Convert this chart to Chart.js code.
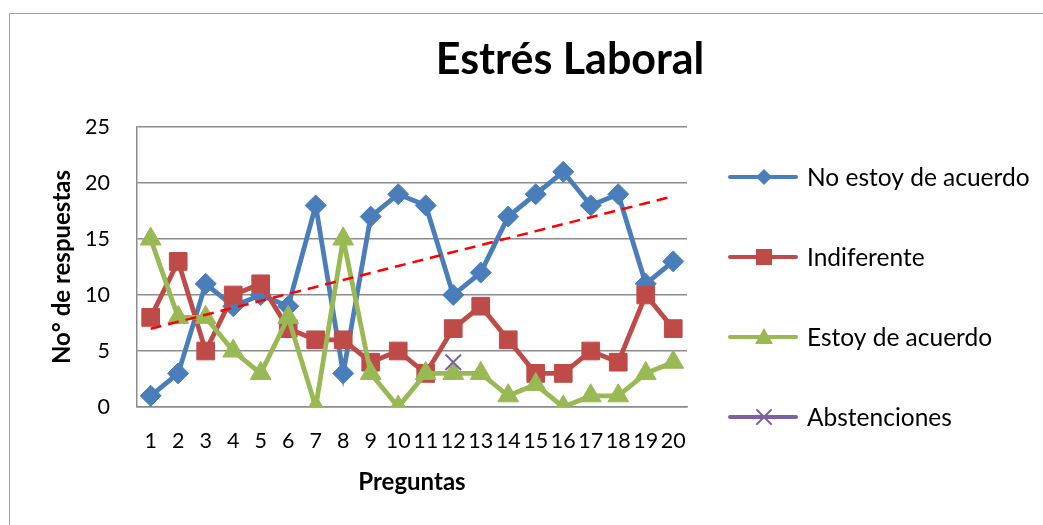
<!DOCTYPE html>
<html>
<head>
<meta charset="utf-8">
<script src="https://cdn.jsdelivr.net/npm/chart.js@4.4.1/dist/chart.umd.min.js"></script>
<style>
  html, body { margin: 0; padding: 0; background: #fff; overflow: hidden; }
  #marco { position: absolute; left: 9px; top: 13px; width: 1100px; height: 600px; border: 1.5px solid #a6a6a6; }
  #contenedor { position: absolute; left: 0; top: 0; width: 1043px; height: 525px; }
</style>
</head>
<body>
<div id="marco"></div>
<div id="contenedor"><canvas id="grafico"></canvas></div>
<script>
const titulo = 'Estrés Laboral';
const preguntas = ['1', '2', '3', '4', '5', '6', '7', '8', '9', '10',
    '11', '12', '13', '14', '15', '16', '17', '18', '19', '20'];
const noEstoyDeAcuerdo = [1, 3, 11, 9, 10, 9, 18, 3, 17, 19, 18, 10, 12, 17, 19, 21, 18, 19, 11, 13];
const indiferente = [8, 13, 5, 10, 11, 7, 6, 6, 4, 5, 3, 7, 9, 6, 3, 3, 5, 4, 10, 7];
const estoyDeAcuerdo = [15, 8, 8, 5, 3, 8, 0, 15, 3, 0, 3, 3, 3, 1, 2, 0, 1, 1, 3, 4];
const abstenciones = [null, null, null, null, null, null, null, null, null, null,
    null, 4, null, null, null, null, null, null, null, null];
const yMin = 0;
const yMax = 25;
const yPaso = 5;

const azul = '#4a7ebb';
const rojo = '#be4b48';
const verde = '#98b954';
const morado = '#7d60a0';

// linea de tendencia lineal (minimos cuadrados) de "No estoy de acuerdo", como la de Excel
function tendenciaLineal(valores) {
    const n = valores.length;
    let sx = 0, sy = 0, sxy = 0, sxx = 0;
    valores.forEach((y, i) => {
        const x = i + 1;
        sx += x; sy += y; sxy += x * y; sxx += x * x;
    });
    const m = (n * sxy - sx * sy) / (n * sxx - sx * sx);
    const b = (sy - m * sx) / n;
    return valores.map((_, i) => m * (i + 1) + b);
}

// icono de leyenda: linea con marcador en medio
function iconoLeyenda(color, marcador) {
    const c = document.createElement('canvas');
    c.width = 72;
    c.height = 22;
    const g = c.getContext('2d');
    g.strokeStyle = color;
    g.fillStyle = color;
    g.lineWidth = 4;
    g.lineCap = 'round';
    g.beginPath();
    g.moveTo(3, 11);
    g.lineTo(69, 11);
    g.stroke();
    const cx = 37, cy = 11;
    g.beginPath();
    if (marcador === 'rombo') {
        g.moveTo(cx - 8, cy); g.lineTo(cx, cy - 8); g.lineTo(cx + 8, cy); g.lineTo(cx, cy + 8);
        g.closePath(); g.fill();
    } else if (marcador === 'cuadro') {
        g.rect(cx - 8, cy - 8, 16, 16); g.fill();
    } else if (marcador === 'triangulo') {
        g.moveTo(cx, cy - 9); g.lineTo(cx + 9, cy + 7); g.lineTo(cx - 9, cy + 7);
        g.closePath(); g.fill();
    } else {
        g.lineWidth = 2;
        g.moveTo(cx - 7, cy - 7); g.lineTo(cx + 7, cy + 7);
        g.moveTo(cx + 7, cy - 7); g.lineTo(cx - 7, cy + 7);
        g.stroke();
    }
    return c;
}

const iconos = [
    iconoLeyenda(azul, 'rombo'),
    iconoLeyenda(rojo, 'cuadro'),
    iconoLeyenda(verde, 'triangulo'),
    iconoLeyenda(morado, 'cruz')
];

const tituloFijo = {
    id: 'tituloFijo',
    afterDraw(chart) {
        const ctx = chart.ctx;
        ctx.save();
        ctx.font = 'bold 43px Lato';
        ctx.fillStyle = '#000';
        ctx.textAlign = 'center';
        ctx.textBaseline = 'alphabetic';
        ctx.fillText(titulo, 570, 74);
        ctx.restore();
    }
};

// leyenda a la derecha, con mas espacio que la de Chart.js
const leyendaDerecha = {
    id: 'leyendaDerecha',
    afterDraw(chart) {
        const ctx = chart.ctx;
        ctx.save();
        ctx.font = '24.5px Lato';
        ctx.fillStyle = '#000';
        ctx.textAlign = 'left';
        ctx.textBaseline = 'middle';
        chart.data.datasets.slice(0, 4).forEach((ds, i) => {
            const y = chart.chartArea.top + 50 + i * 80;
            ctx.drawImage(iconos[i], chart.chartArea.right + 40, y - 11);
            ctx.fillText(ds.label, chart.chartArea.right + 120, y + 1);
        });
        ctx.restore();
    }
};

Chart.defaults.font.family = 'Lato';
Chart.defaults.font.size = 21.5;
Chart.defaults.color = '#000';

const serie = (label, data, color, estilo, radio, orden) => ({
    label: label,
    data: data,
    borderColor: color,
    backgroundColor: color,
    borderWidth: 4.8,
    pointStyle: estilo,
    pointRadius: radio,
    pointBackgroundColor: color,
    pointBorderColor: color,
    pointBorderWidth: 1,
    tension: 0,
    order: orden
});

const abst = serie('Abstenciones', abstenciones, morado, 'crossRot', 11, -3);
abst.pointBorderWidth = 2;

new Chart(document.getElementById('grafico'), {
    type: 'line',
    data: {
        labels: preguntas,
        datasets: [
            serie('No estoy de acuerdo', noEstoyDeAcuerdo, azul, 'rectRot', 10.5, 0),
            serie('Indiferente', indiferente, rojo, 'rect', 12.5, -1),
            serie('Estoy de acuerdo', estoyDeAcuerdo, verde, 'triangle', 12, -2),
            abst,
            {
                label: 'Lineal (No estoy de acuerdo)',
                data: tendenciaLineal(noEstoyDeAcuerdo),
                borderColor: '#ff0000',
                borderWidth: 2.5,
                borderDash: [11, 7],
                pointRadius: 0,
                tension: 0,
                order: -4
            }
        ]
    },
    options: {
        responsive: true,
        maintainAspectRatio: false,
        animation: false,
        layout: {
            padding: { left: 40, right: 356, top: 127, bottom: 28 }
        },
        scales: {
            x: {
                offset: true,
                grid: { display: false, tickLength: 19 },
                border: { color: '#8c8c8c', width: 1.5 },
                ticks: { autoSkip: false, maxRotation: 0, padding: 2 },
                title: {
                    display: true,
                    text: 'Preguntas',
                    font: { size: 24, weight: 'bold' },
                    padding: { top: 12.4, bottom: 0 }
                }
            },
            y: {
                min: yMin,
                max: yMax,
                grid: { color: '#8c8c8c', lineWidth: 1.5, tickLength: 25, tickColor: 'rgba(0,0,0,0)' },
                border: { color: '#8c8c8c', width: 1.5 },
                ticks: { stepSize: yPaso, padding: 2 },
                title: {
                    display: true,
                    text: 'No° de respuestas',
                    font: { size: 24, weight: 'bold' },
                    padding: { top: 7.6, bottom: 6.6 }
                }
            }
        },
        plugins: {
            title: { display: false },
            legend: { display: false },
            tooltip: { enabled: false }
        }
    },
    plugins: [tituloFijo, leyendaDerecha]
});
</script>
</body>
</html>
